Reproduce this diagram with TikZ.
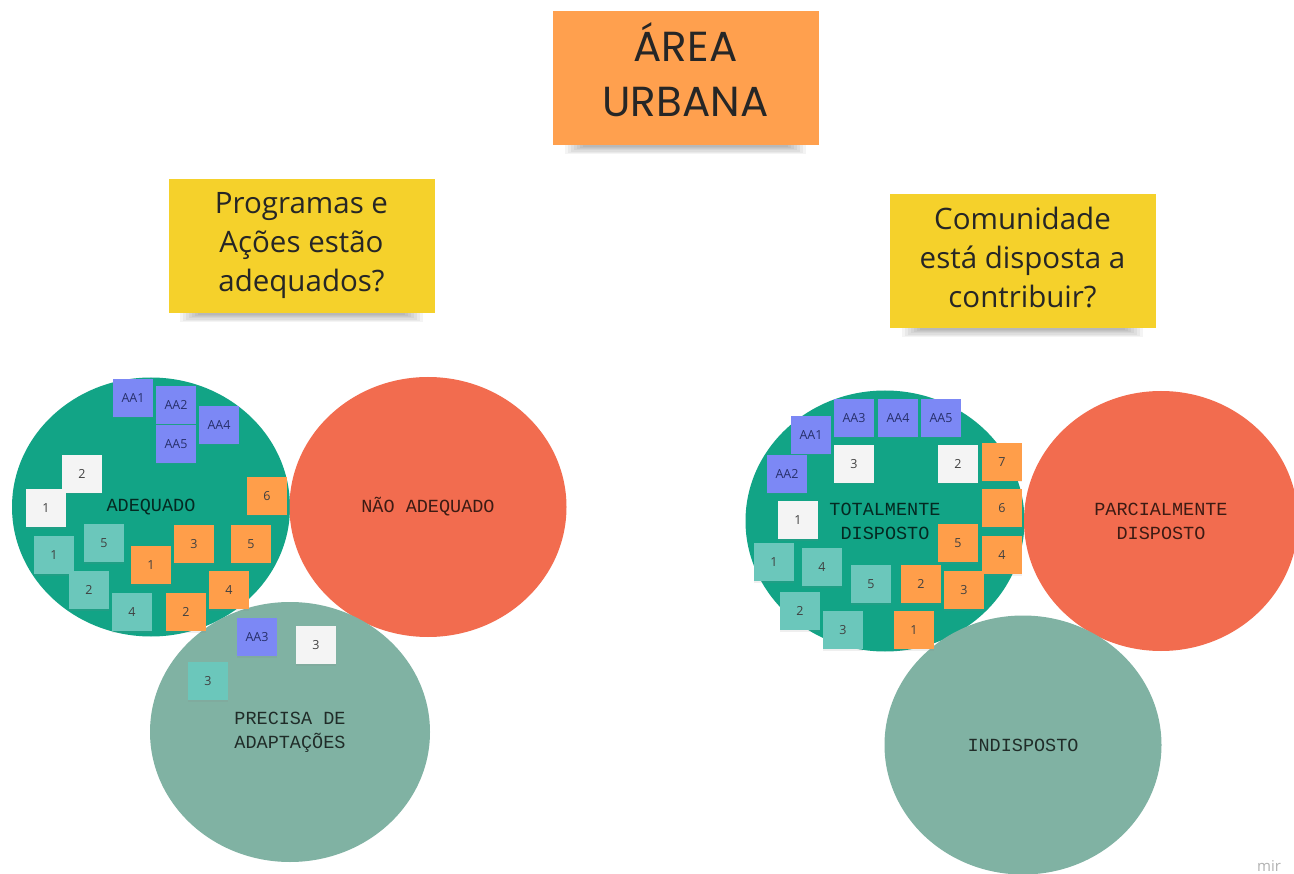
\documentclass[tikz,border=0pt]{standalone}
\usepackage{fontspec}
\setmainfont{Open Sans}
\newfontfamily\titlefont{Poppins}
\newfontfamily\labelfont{Liberation Mono}
\usetikzlibrary{shapes.geometric,shadows}
\definecolor{cgreen}{HTML}{12A486}
\definecolor{cred}{HTML}{F26C4F}
\definecolor{cgray}{HTML}{80B2A3}
\definecolor{ntitle}{HTML}{FFA04E}
\definecolor{nyellow}{HTML}{F5D12B}
\definecolor{sblue}{HTML}{7C88F5}
\definecolor{sbluetext}{HTML}{27306B}
\definecolor{swhite}{HTML}{F4F4F4}
\definecolor{steal}{HTML}{6BC7BB}
\definecolor{sorange}{HTML}{FF9E4A}
\tikzset{
  bigcirc/.style={ellipse, inner sep=0pt, minimum width=278pt, minimum height=259pt,
    font=\labelfont\fontsize{18.5}{24}\selectfont, text=black, text opacity=0.75, align=center},
  bignote/.style={inner sep=0pt, minimum width=266pt, minimum height=134pt},
  notetext/.style={align=center, text=black!85},
  sn/.style={minimum width=40pt, minimum height=38pt, inner sep=0pt,
    font=\fontsize{12.5}{12.5}\selectfont, text=black!75,
    drop shadow={opacity=0.12, shadow xshift=0pt, shadow yshift=-1.5pt}},
  sb/.style={sn, fill=sblue, text=sbluetext},
  sw/.style={sn, fill=swhite},
  st/.style={sn, fill=steal},
  so/.style={sn, fill=sorange},
}
\newcommand{\notesh}[3]{% x1, x2, ybottom
  \foreach \i in {0,...,6}{
    \fill[black, opacity=0.045] (#1+12+\i*3, #3-2) rectangle (#2-12-\i*3, #3+9-\i*1.2);
  }
}
\begin{document}
\begin{tikzpicture}[x=1pt,y=-1pt]
\useasboundingbox (0,0) rectangle (1294,874);
\fill[white] (0,0) rectangle (1294,874);

% big notes
\notesh{553}{818}{145}
\node[bignote, fill=ntitle] (title) at (685.5,78) {};
\node[notetext, font=\titlefont\fontsize{42}{55}\selectfont] (titletext) at (685.5,70) {ÁREA\\URBANA};

\notesh{168}{435}{313}
\node[bignote, fill=nyellow] (q1) at (301.5,246) {};
\node[notetext, font=\fontsize{29.5}{39}\selectfont] (q1text) at (301.5,246) {Programas e\\Ações estão\\adequados?};

\notesh{890}{1155}{328}
\node[bignote, fill=nyellow] (q2) at (1022.5,261) {};
\node[notetext, font=\fontsize{29.5}{39}\selectfont] (q2text) at (1022.5,258) {Comunidade\\está disposta a\\contribuir?};

% left circles
\node[bigcirc, fill=cgreen] (adeq) at (151,507) {ADEQUADO};
\node[bigcirc, fill=cred, minimum width=277pt, minimum height=260pt] (nadeq) at (428,507) {NÃO ADEQUADO};
\node[bigcirc, fill=cgray, minimum width=280pt, minimum height=260pt] (precisa) at (290,732) {PRECISA DE\\ADAPTAÇÕES};

% right circles
\node[bigcirc, fill=cgreen, minimum width=279pt, minimum height=261pt] (total) at (885,521) {TOTALMENTE\\DISPOSTO};
\node[bigcirc, fill=cred, minimum width=274pt, minimum height=260pt] (parcial) at (1161,521) {PARCIALMENTE\\DISPOSTO};
\node[bigcirc, fill=cgray, minimum width=277pt, minimum height=259pt] (indisp) at (1023,745) {INDISPOSTO};

% left stickies (adequado)
\node[sb] (lAAone) at (133,398) {AA1};
\node[sb] (lAAtwo) at (176,405) {AA2};
\node[sb] (lAAfive) at (176,444) {AA5};
\node[sb] (lAAfour) at (219,425) {AA4};
\node[sw] (lwtwo) at (82,474) {2};
\node[sw] (lwone) at (46,508) {1};
\node[so] (losix) at (267,496) {6};
\node[st] (ltone) at (54,555) {1};
\node[st] (ltfive) at (104,543) {5};
\node[so] (lothree) at (194,544) {3};
\node[so] (lofive) at (251,544) {5};
\node[so] (loone) at (151,565) {1};
\node[st] (lttwo) at (89,590) {2};
\node[so] (lofour) at (229,590) {4};
\node[st] (ltfour) at (132,612) {4};
\node[so] (lotwo) at (186,612) {2};

% precisa stickies
\node[sb] (pAAthree) at (257,637) {AA3};
\node[sw] (pwthree) at (316,645) {3};
\node[st] (ptthree) at (208,681) {3};

% right stickies (totalmente)
\node[sb] (rAAthree) at (854,418) {AA3};
\node[sb] (rAAfour) at (898,418) {AA4};
\node[sb] (rAAfive) at (941,418) {AA5};
\node[sb] (rAAone) at (811,435) {AA1};
\node[sb] (rAAtwo) at (787,474) {AA2};
\node[sw] (rwthree) at (854,464) {3};
\node[sw] (rwtwo) at (958,464) {2};
\node[so] (roseven) at (1002,462) {7};
\node[sw] (rwone) at (798,520) {1};
\node[so] (rosix) at (1002,508) {6};
\node[so] (rofour) at (1002,555) {4};
\node[so] (rofive) at (958,543) {5};
\node[st] (rtone) at (774,562) {1};
\node[st] (rtfour) at (822,567) {4};
\node[st] (rtfive) at (871,584) {5};
\node[so] (rotwo) at (921,584) {2};
\node[so] (rothree) at (964,590) {3};
\node[st] (rttwo) at (800,611) {2};
\node[st] (rtthree) at (843,630) {3};
\node[so] (roone) at (914,630) {1};

% watermark
\node[anchor=west, text=black!30, font=\fontsize{15}{15}\selectfont, inner sep=0pt] (miro) at (1257,866) {mir};
\end{tikzpicture}
\end{document}
